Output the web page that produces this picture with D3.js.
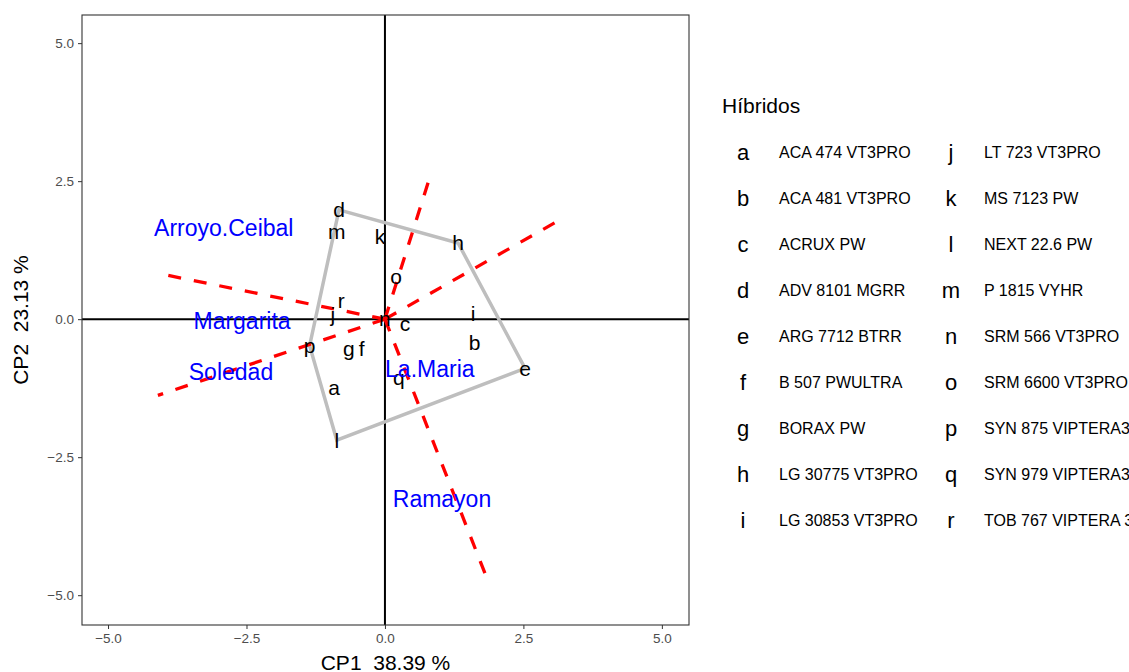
<!DOCTYPE html>
<html>
<head>
<meta charset="utf-8">
<script src="https://cdn.jsdelivr.net/npm/d3@7"></script>
<style>
  body { margin: 0; background: #fff; overflow: hidden; }
  text { font-family: "Liberation Sans", Arial, Helvetica, sans-serif; }
</style>
</head>
<body>
<div class="biplot"></div>
<script>
// hybrid codes, names and scores (CP1, CP2)
const codes = ["a","b","c","d","e","f","g","h","i","j","k","l","m","n","o","p","q","r"]
const names = ["ACA 474 VT3PRO","ACA 481 VT3PRO","ACRUX PW","ADV 8101 MGRR","ARG 7712 BTRR",
               "B 507 PWULTRA","BORAX PW","LG 30775 VT3PRO","LG 30853 VT3PRO","LT 723 VT3PRO",
               "MS 7123 PW","NEXT 22.6 PW","P 1815 VYHR","SRM 566 VT3PRO","SRM 6600 VT3PRO",
               "SYN 875 VIPTERA3","SYN 979 VIPTERA3","TOB 767 VIPTERA 3"]
const cp1 = [-0.92, 1.62, 0.36, -0.83, 2.53, -0.42, -0.65, 1.32, 1.59, -0.94, -0.09, -0.87, -0.87, 0.00, 0.20, -1.36, 0.25, -0.79]
const cp2 = [-1.23, -0.42, -0.07, 1.98, -0.89, -0.53, -0.54, 1.38, 0.11, 0.09, 1.49, -2.19, 1.58, 0.02, 0.78, -0.48, -1.05, 0.33]

// environments
const envNames = ["Arroyo.Ceibal","Margarita","Soledad","La.Maria","Ramayon"]
const envCp1 = [-2.91, -2.58, -2.78, 0.81, 1.03]
const envCp2 = [1.65, -0.04, -0.96, -0.91, -3.26]

// polygon vertices (which-won-where)
const hull = ["d","h","e","l","p"]

// sector rays from origin, end points
const rayCp1 = [-4.10, -4.10, 3.09, 0.81, 1.82]
const rayCp2 = [0.83, -1.38, 1.76, 2.57, -4.64]

const xTicks = [-5, -2.5, 0, 2.5, 5]
const yTicks = [-5, -2.5, 0, 2.5, 5]

const svg = d3.select(".biplot").append("svg").attr("width",1129).attr("height",672)
const panel = {left:82, right:689, top:15, bottom:625}

const x = d3.scaleLinear().domain([-5.47, 5.49]).range([panel.left, panel.right])
const y = d3.scaleLinear().domain([-5.54, 5.51]).range([panel.bottom, panel.top])

// axes
const xAxis = svg.append("g").attr("transform", `translate(0,${panel.bottom})`)
  .call(d3.axisBottom(x).tickValues(xTicks).tickSize(4).tickPadding(4).tickFormat(d3.format(".1f")))
const yAxis = svg.append("g").attr("transform", `translate(${panel.left},0)`)
  .call(d3.axisLeft(y).tickValues(yTicks).tickSize(4).tickPadding(4).tickFormat(d3.format(".1f")))
;[xAxis, yAxis].forEach(a => {
  a.select(".domain").remove()
  a.selectAll(".tick line").attr("stroke","#333").attr("stroke-width",1)
  a.selectAll(".tick text").attr("fill","#4d4d4d").style("font-size","13.5px")
})

// reference lines through origin
svg.append("line").attr("x1",panel.left).attr("x2",panel.right).attr("y1",y(0)).attr("y2",y(0))
   .attr("stroke","black").attr("stroke-width",2)
svg.append("line").attr("x1",x(0)).attr("x2",x(0)).attr("y1",panel.top).attr("y2",panel.bottom)
   .attr("stroke","black").attr("stroke-width",2)

// polygon
const hullPts = hull.map(c => { const i = codes.indexOf(c); return [x(cp1[i]), y(cp2[i])] })
svg.append("path").attr("d", d3.line()(hullPts) + "Z")
   .attr("fill","none").attr("stroke","#bebebe").attr("stroke-width",3.5)

// rays
svg.selectAll(".ray").data(rayCp1).enter().append("line").attr("class","ray")
   .attr("x1",x(0)).attr("y1",y(0)).attr("x2",d=>x(d)).attr("y2",(d,i)=>y(rayCp2[i]))
   .attr("stroke","red").attr("stroke-width",3.3).attr("stroke-dasharray","13,13")

// hybrid labels
svg.selectAll(".gen").data(codes).enter().append("text").attr("class","gen")
   .attr("x",(d,i)=>x(cp1[i])).attr("y",(d,i)=>y(cp2[i]))
   .attr("text-anchor","middle").attr("dominant-baseline","central")
   .style("font-size","21px").attr("fill","black").text(d=>d)

// environment labels
svg.selectAll(".env").data(envNames).enter().append("text").attr("class","env")
   .attr("x",(d,i)=>x(envCp1[i])).attr("y",(d,i)=>y(envCp2[i]))
   .attr("text-anchor","middle").attr("dominant-baseline","central")
   .style("font-size","23px").attr("fill","blue").text(d=>d)

// panel border
svg.append("rect").attr("x",panel.left).attr("y",panel.top)
   .attr("width",panel.right-panel.left).attr("height",panel.bottom-panel.top)
   .attr("fill","none").attr("stroke","#333").attr("stroke-width",1.1)

// axis titles
svg.append("text").attr("x",(panel.left+panel.right)/2).attr("y",670)
   .attr("text-anchor","middle").style("font-size","21px").style("white-space","pre").text("CP1  38.39 %")
svg.append("text").attr("transform",`translate(28,${(panel.top+panel.bottom)/2}) rotate(-90)`)
   .attr("text-anchor","middle").style("font-size","21px").style("white-space","pre").text("CP2  23.13 %")

// legend
const legend = svg.append("g").attr("transform","translate(722,0)")
legend.append("text").attr("x",0).attr("y",113).style("font-size","21px").text("Híbridos")
const rows = 9
const item = legend.selectAll(".item").data(codes).enter().append("g").attr("class","item")
   .attr("transform",(d,i)=>`translate(${Math.floor(i/rows)*208},${152 + (i%rows)*46})`)
item.append("text").attr("x",21).attr("y",0).attr("text-anchor","middle").attr("dominant-baseline","central")
   .style("font-size","22px").text(d=>d)
item.append("text").attr("x",(d,i)=>57 - Math.floor(i/rows)*3).attr("y",0).attr("dominant-baseline","central")
   .style("font-size","16px").text((d,i)=>names[i])
</script>
</body>
</html>
